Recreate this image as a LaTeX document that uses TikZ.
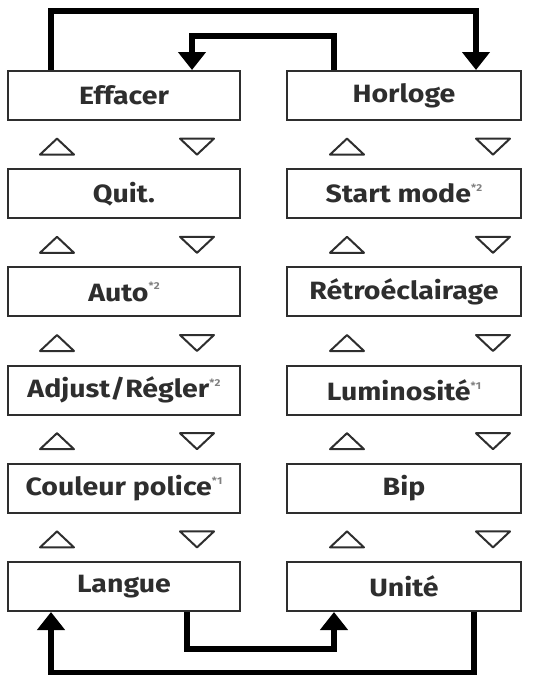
\documentclass[tikz,border=0pt]{standalone}
\usepackage{fontspec}
\setmainfont{Fira Sans}[FakeStretch=1.14]
\usetikzlibrary{arrows.meta}
\definecolor{ink}{HTML}{2E2E2E}
\newcommand{\fn}[1]{\raisebox{0.45em}{\fontsize{10}{10}\selectfont\color{gray}*#1}}
\begin{document}
\begin{tikzpicture}[x=1pt,y=-1pt,
  box/.style={draw=ink,line width=2pt,minimum height=49pt,inner sep=0pt,
    font=\fontsize{25}{28}\selectfont\bfseries,text=ink},
  lbox/.style={box,minimum width=232pt},
  rbox/.style={box,minimum width=234pt},
  tri/.style={draw=ink,line width=2pt,line join=round},
  conn/.style={line width=6pt,black},
  tip/.style={-{Triangle[width=27pt,length=18pt]}}]
\useasboundingbox (0,0) rectangle (543,675);
% boxes
\node[lbox] (L1) at (124,95.5) {Effacer};
\node[lbox] (L2) at (124,193.7) {Quit.};
\node[lbox] (L3) at (124,291.9) {Auto\fn{2}};
\node[lbox] (L4) at (124,390.1) {Adjust/Régler\fn{2}};
\node[lbox] (L5) at (124,488.3) {Couleur police\fn{1}};
\node[lbox] (L6) at (124,586.5) {Langue};
\node[rbox] (R1) at (404,95.5) {Horloge};
\node[rbox] (R2) at (404,193.7) {Start mode\fn{2}};
\node[rbox] (R3) at (404,291.9) {Rétroéclairage};
\node[rbox] (R4) at (404,390.1) {Luminosité\fn{1}};
\node[rbox] (R5) at (404,488.3) {Bip};
\node[rbox] (R6) at (404,586.5) {Unité};
% triangles
\foreach \cy in {146.6,244.8,343.0,441.2,539.4}{
  \foreach \cx in {57,347}{
    \draw[tri] (\cx-17,\cy+8) -- (\cx+17,\cy+8) -- (\cx,\cy-8) -- cycle;}
  \foreach \cx in {197,493}{
    \draw[tri] (\cx-17,\cy-8) -- (\cx+17,\cy-8) -- (\cx,\cy+8) -- cycle;}
}
% connectors
\draw[conn,tip] ([xshift=44pt]L1.north west) -- ++(0,-59) -| ([xshift=-46pt]R1.north east);
\draw[conn,tip] ([xshift=48pt]R1.north west) -- ++(0,-34) -| ([xshift=185pt]L1.north west);
\draw[conn,tip] ([xshift=180pt]L6.south west) -- ++(0,37) -| ([xshift=48pt]R6.south west);
\draw[conn,tip] ([xshift=-48pt]R6.south east) -- ++(0,61) -| ([xshift=44pt]L6.south west);
\end{tikzpicture}
\end{document}
